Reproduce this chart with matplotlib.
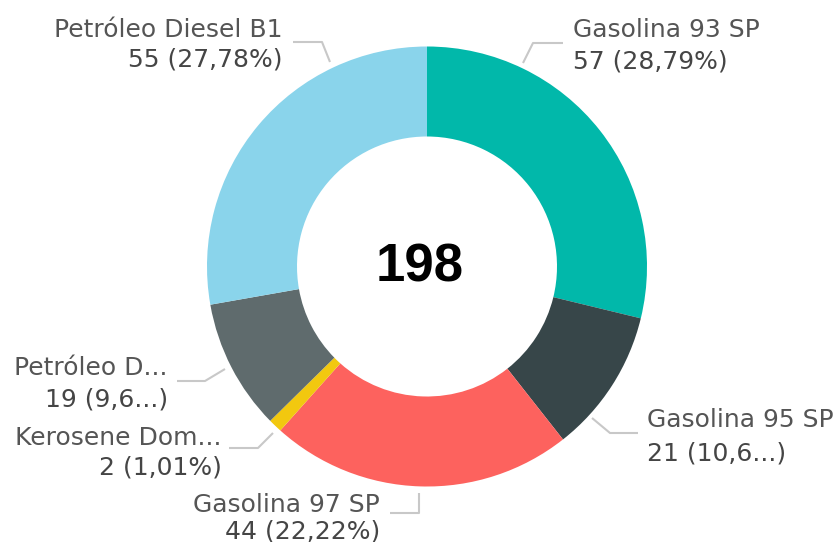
import matplotlib.pyplot as plt

# Data
categories = ["Gasolina 93 SP", "Gasolina 95 SP", "Gasolina 97 SP",
              "Kerosene Dom...", "Petróleo D...", "Petróleo Diesel B1"]
values = [57, 21, 44, 2, 19, 55]
value_labels = ["57 (28,79%)", "21 (10,6...)", "44 (22,22%)",
                "2 (1,01%)", "19 (9,6...)", "55 (27,78%)"]
colors = ["#01B8AA", "#374649", "#FD625E", "#F2C80F", "#5F6B6D", "#8AD4EB"]

# Layout (pixel coords, y measured from top)
center = (427, 266.5)
outer_r = 220
ring_w = 90
# text anchor x, alignment, baseline of first and second line
label_pos = [(573, "left", 37, 68), (647, "left", 427, 460),
             (380, "right", 512, 538), (222, "right", 445, 474),
             (168, "right", 375, 406), (283, "right", 37, 66)]
leaders = [
    [(523, 63), (533, 43), (563, 43)],
    [(592, 418), (610, 433), (638, 433)],
    [(419, 493), (419, 513), (390, 513)],
    [(273, 433), (258, 448), (229, 448)],
    [(225, 369), (205, 381), (177, 381)],
    [(330, 62), (322, 42), (293, 42)],
]

fig = plt.figure(figsize=(8.37, 5.42), dpi=100)
ax = fig.add_axes([0, 0, 1, 1])

# y axis is inverted below, so counterclock=True draws clockwise on screen
ax.pie(values, colors=colors, startangle=-90, counterclock=True,
       radius=outer_r, center=center,
       wedgeprops=dict(width=ring_w, edgecolor="none"))

ax.set_xlim(0, 837)
ax.set_ylim(542, 0)
ax.set_aspect("auto")
ax.axis("off")

ax.text(420, 282, str(sum(values)), ha="center", va="baseline",
        fontsize=38, fontweight="bold", family="Liberation Sans", color="black")

for name, val, (x, ha, y1, y2), pts in zip(categories, value_labels, label_pos, leaders):
    ax.text(x, y1, name, ha=ha, va="baseline", fontsize=18, color="#555555")
    ax.text(x, y2, val, ha=ha, va="baseline", fontsize=18, color="#454545")
    xs, ys = zip(*pts)
    ax.plot(xs, ys, color="#c8c8c8", lw=1.5, solid_capstyle="butt")

fig.savefig("out.png", dpi=100)
